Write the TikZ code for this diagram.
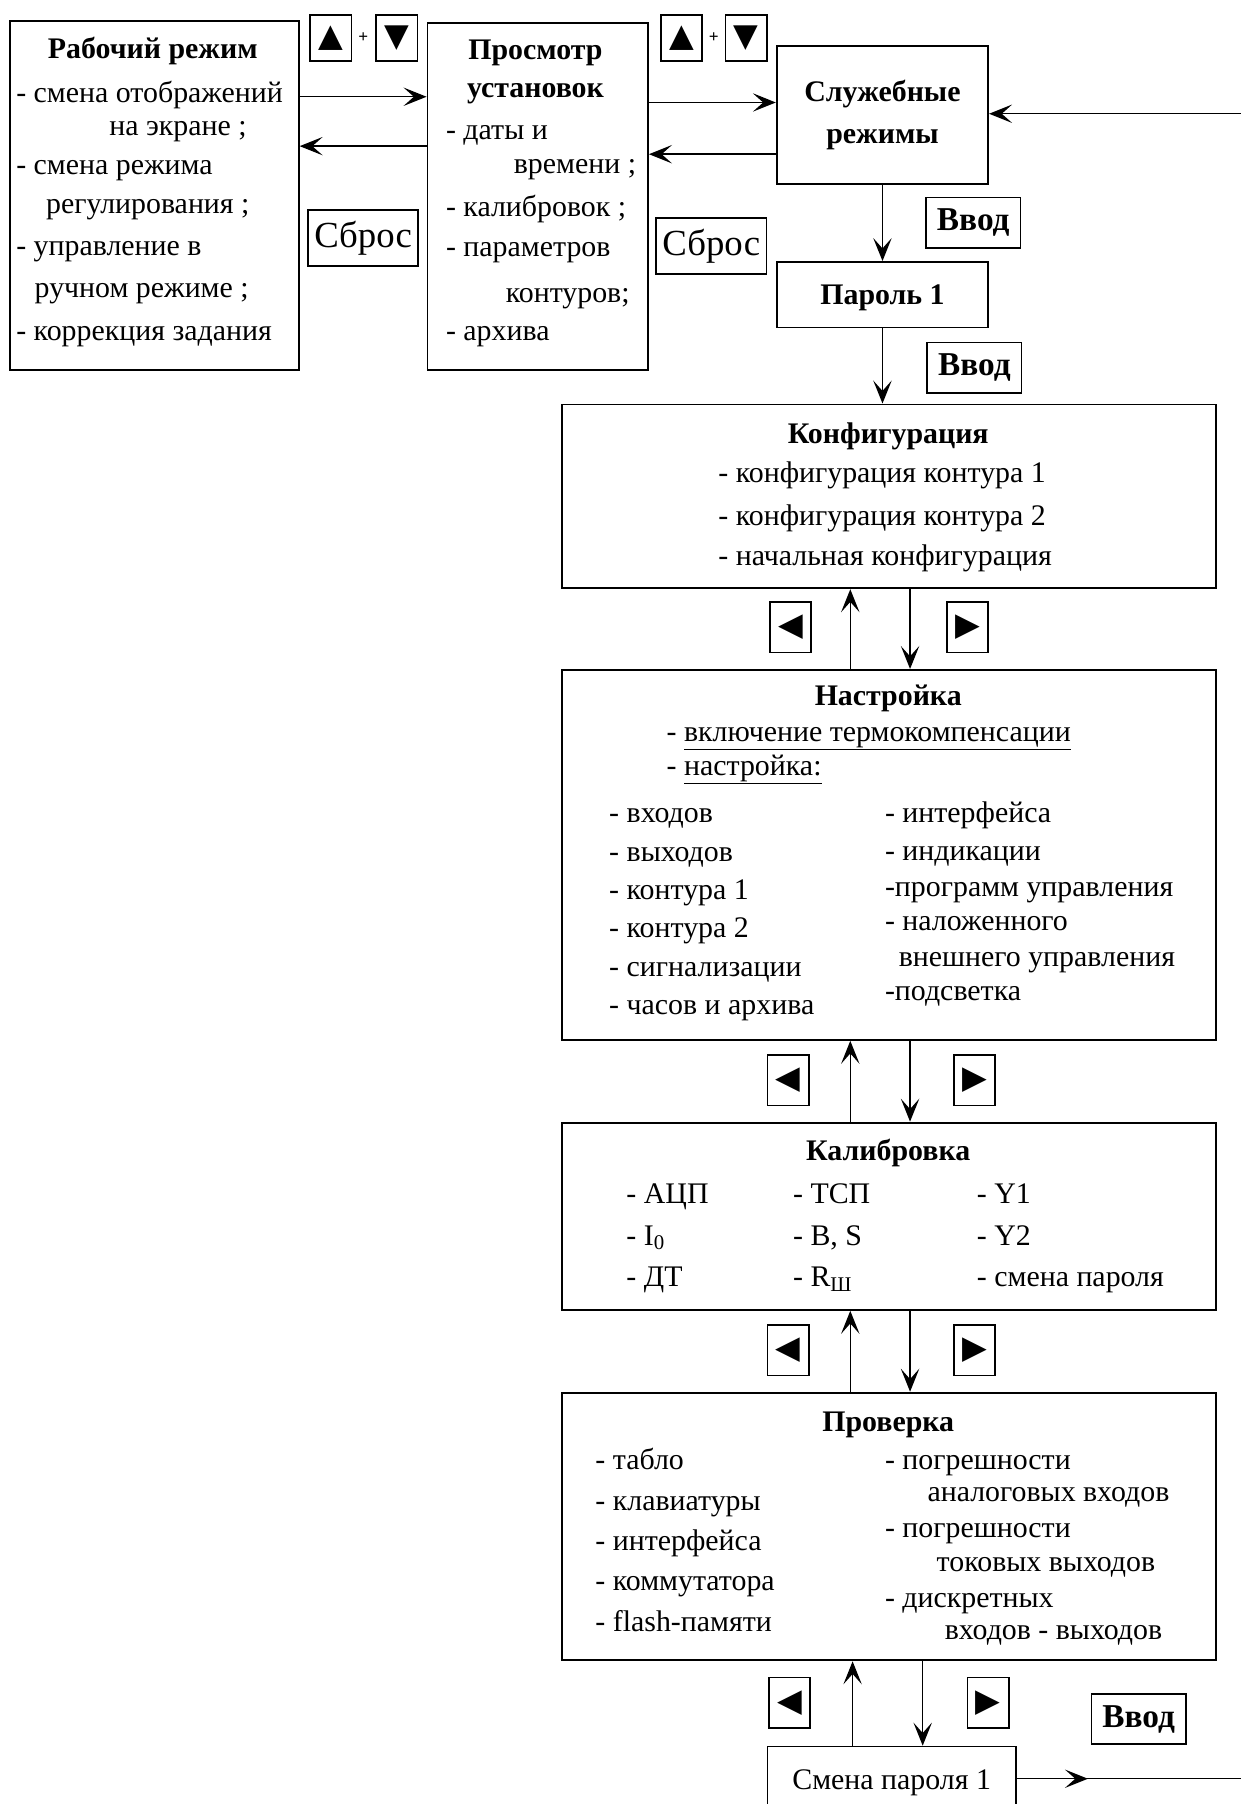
\documentclass[tikz,border=0pt]{standalone}
\usepackage{fontspec}
\setmainfont{Liberation Serif}
\newfontfamily\symf{DejaVu Sans}
\usetikzlibrary{positioning,fit,arrows.meta,decorations.markings}

\begin{document}
\begin{tikzpicture}[x=1pt, y=-1pt, node distance=20pt,
    >={Stealth[length=20pt, width=16pt, inset=9pt]},
    box/.style = {draw, line width=1.6pt, inner sep=0pt},
    key/.style = {draw, line width=1.4pt, inner sep=0pt, minimum width=36pt, minimum height=40pt, font=\symf\fontsize{28}{28}\selectfont},
    pls/.style = {inner sep=0pt, font=\bfseries\fontsize{15}{15}\selectfont},
    rst/.style = {draw, line width=1.4pt, inner sep=0pt, minimum width=96pt, minimum height=49pt, font=\fontsize{32}{32}\selectfont},
    ent/.style = {draw, line width=1.4pt, inner sep=0pt, minimum width=82pt, minimum height=44pt, font=\bfseries\fontsize{29}{29}\selectfont},
    ttl/.style = {anchor=base, inner sep=0pt, font=\bfseries\fontsize{26}{30}\selectfont},
    itm/.style = {anchor=base west, inner sep=0pt, font=\fontsize{26}{30}\selectfont},
    arr/.style = {->, line width=1.3pt}]
    \useasboundingbox (0,0) rectangle (1080,1570);
    \clip (0,0) rectangle (1080,1570);
    \fill[white] (0,0) rectangle (1080,1570);

    \node[box, fit={(9,18) (260,322)}] (work) {};
    \node[box, fit={(372,20) (564,322)}] (view) {};
    \node[box, fit={(676,40) (860,160)}] (svc) {};
    \node[box, fit={(676,228) (860,285)}] (pw) {};
    \node[box, fit={(489,352) (1058,512)}] (conf) {};
    \node[box, fit={(489,583) (1058,905)}] (set) {};
    \node[box, fit={(489,977) (1058,1140)}] (cal) {};
    \node[box, fit={(489,1212) (1058,1445)}] (chk) {};
    \node[box, fit={(668,1520) (884,1576)}] (smena) {};

    \node[ttl] at (133,51) {Рабочий режим};
    \foreach \y/\t in {89/- смена отображений, 152/- смена режима, 222/- управление в, 296/- коррекция задания}
        \node[itm] at (14,\y) {\t};
    \node[itm] at (95,118) {на экране ;};
    \node[itm] at (40,186) {регулирования ;};
    \node[itm] at (30,259) {ручном режиме ;};

    \node[ttl] at (466,52) {Просмотр};
    \node[ttl] at (466,85) {установок};
    \foreach \y/\t in {121/- даты и, 188/- калибровок ;, 223/- параметров, 296/- архива}
        \node[itm] at (388,\y) {\t};
    \node[itm] at (447,151) {времени ;};
    \node[itm] at (440,263) {контуров;};

    \node[ttl] at (768,88) {Служебные};
    \node[ttl] at (768,125) {режимы};
    \node[ttl] at (768,265) {Пароль 1};
    \node[itm, anchor=base] at (776,1557) {Смена пароля 1};

    \node[ttl] at (773,386) {Конфигурация};
    \foreach \y/\t in {420/- конфигурация контура 1, 457/- конфигурация контура 2, 492/- начальная конфигурация}
        \node[itm] at (625,\y) {\t};

    \node[ttl] at (773,614) {Настройка};
    \node[itm] at (580,645) {- \underline{включение термокомпенсации}};
    \node[itm] at (580,675) {- \underline{настройка:}};
    \foreach \t [count=\i from 0] in {- входов, - выходов, - контура 1, - контура 2, - сигнализации, - часов и архива}
        \node[itm] at (530,716+33.4*\i) {\t};
    \foreach \y/\t in {716/- интерфейса, 749/- индикации, 780/-программ управления, 810/- наложенного, 871/-подсветка}
        \node[itm] at (770,\y) {\t};
    \node[itm] at (782,841) {внешнего управления};

    \node[ttl] at (773,1010) {Калибровка};
    \foreach \y/\a/\b/\c in {1047/АЦП/ТСП/Y1, 1084/I\textsubscript{0}/B{,} S/Y2, 1120/ДТ/R\textsubscript{Ш}/смена пароля} {
        \node[itm] at (545,\y) {- \a};
        \node[itm] at (690,\y) {- \b};
        \node[itm] at (850,\y) {- \c};
    }

    \node[ttl] at (773,1246) {Проверка};
    \foreach \t [count=\i from 0] in {- табло, - клавиатуры, - интерфейса, - коммутатора, - flash-памяти}
        \node[itm] at (518,1279+35.2*\i) {\t};
    \foreach \x/\y/\t in {770/1279/- погрешности, 807/1307/аналоговых входов, 770/1338/- погрешности, 815/1368/токовых выходов, 770/1399/- дискретных, 822/1427/входов - выходов}
        \node[itm] at (\x,\y) {\t};

    \node[key] (kup1) at (288,33) {▲};
    \node[key, right=20pt of kup1] (kdn1) {▼};
    \node[pls, right=5pt of kup1] {+};
    \node[key] (kup2) at (593,33) {▲};
    \node[key, right=19pt of kup2] (kdn2) {▼};
    \node[pls, right=5pt of kup2] {+};
    \node[rst] (rst1) at (316,207) {Сброс};
    \node[rst] (rst2) at (619,214) {Сброс};
    \node[ent] (ent1) at (847,194) {Ввод};
    \node[ent] (ent2) at (848,320) {Ввод};
    \node[ent] (ent3) at (991,1496) {Ввод};
    \foreach \n/\xl/\xr/\y in {1/688/842/546, 2/686/848/940, 3/686/848/1175, 4/687/860/1482} {
        \node[key, minimum height=44pt] (kl\n) at (\xl,\y) {◀};
        \node[key, minimum height=44pt] (kr\n) at (\xr,\y) {▶};
    }

    \draw[arr] ([yshift=-67pt]work.north east) -- ([yshift=-65pt]view.north west);
    \draw[arr] ([yshift=-108pt]view.north west) -- ([yshift=-110pt]work.north east);
    \draw[arr] ([yshift=-70pt]view.north east) -- ([yshift=-50pt]svc.north west);
    \draw[arr] ([yshift=-95pt]svc.north west) -- ([yshift=-115pt]view.north east);
    \coordinate (inR) at (1080,99);
    \draw[arr] (inR) -- (svc.east |- inR);
    \draw[arr] (svc.south) -- (pw.north);
    \draw[arr] (pw.south) -- (pw.south |- conf.north);
    \foreach \a/\b in {conf/set, set/cal, cal/chk} {
        \draw[arr] ([xshift=-33.5pt]\b.north) -- ([xshift=-33.5pt]\a.south);
        \draw[arr] ([xshift=18.5pt]\a.south) -- ([xshift=18.5pt]\b.north);
    }
    \draw[arr] ([xshift=-34pt]smena.north) -- ([xshift=-31.5pt]chk.south);
    \draw[arr] ([xshift=29.5pt]chk.south) -- ([xshift=27pt]smena.north);
    \coordinate (outR) at (1080,1548);
    \draw[line width=1.3pt, postaction={decorate}, decoration={markings, mark=at position 62pt with {\arrow{>}}}] (smena.east |- outR) -- (outR);
\end{tikzpicture}
\end{document}
